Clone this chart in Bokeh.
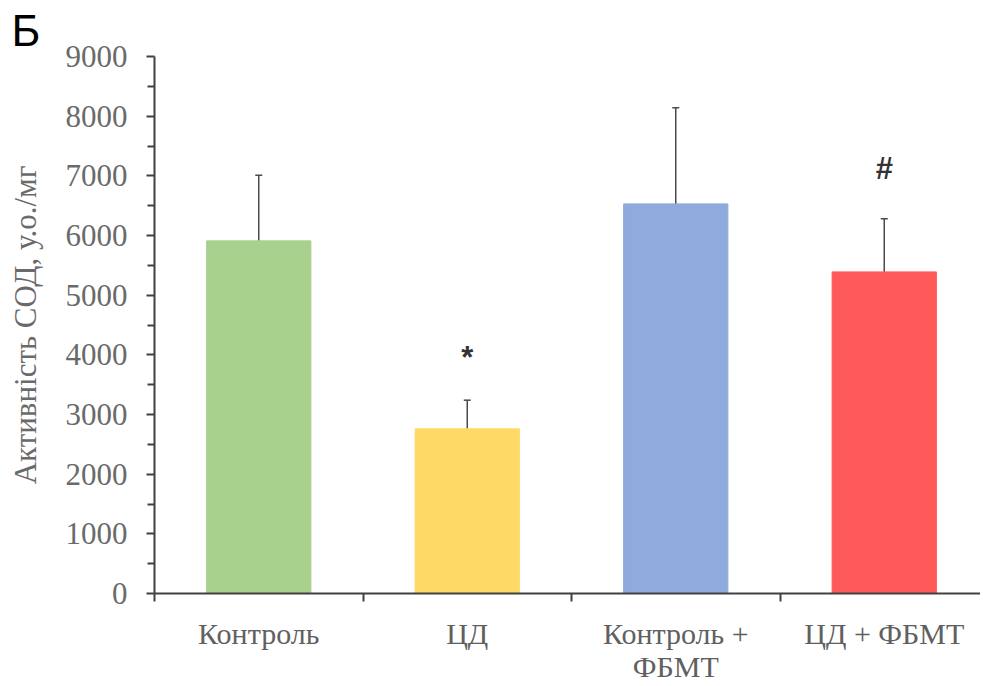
from bokeh.plotting import figure
from bokeh.models import FixedTicker, ColumnDataSource, Whisker, Label, TeeHead
from bokeh.embed import file_html
from bokeh.resources import INLINE

categories = ["Контроль", "ЦД", "Контроль +\nФБМТ", "ЦД + ФБМТ"]
means = [5910, 2760, 6530, 5390]
lower = [4800, 2280, 4930, 4520]
upper = [7010, 3240, 8140, 6280]
colors = ["#A9D18E", "#FFD966", "#8FAADC", "#FF5A5A"]
marks = ["", "*", "", "#"]
mark_y = [0, 3960, 0, 7120]
y_ticks = [0, 1000, 2000, 3000, 4000, 5000, 6000, 7000, 8000, 9000]

xpos = [i + 0.5 for i in range(len(categories))]

W, H = 980, 685
LEFT, TOP = 154, 56
FRAME_H = 538
p = figure(width=W, height=H, x_range=(0, (W - LEFT) / 208.5), y_range=(0, 9000),
           output_backend="svg", toolbar_location=None,
           min_border_left=LEFT, min_border_right=0, min_border_top=TOP,
           min_border_bottom=H - TOP - FRAME_H)
p.grid.visible = False
p.outline_line_color = None
p.background_fill_color = "white"

p.title.text = "Б"
p.title.align = "left"
p.title.offset = -143
p.title.standoff = 0
p.title.vertical_align = "top"
p.title.text_font = "'Liberation Sans Narrow', 'Liberation Sans'"
p.title.text_font_size = "44px"
p.title.text_line_height = 1.35
p.title.text_font_style = "normal"
p.title.text_color = "black"

src = ColumnDataSource(dict(x=xpos, top=means, lower=lower, upper=upper, color=colors))
p.vbar(x="x", top="top", width=0.5, bottom=0, color="color", source=src)

w = Whisker(base="x", lower="lower", upper="upper", source=src,
            line_color="#4a4a4a", line_width=1.5,
            upper_head=TeeHead(size=7, line_color="#4a4a4a", line_width=1.5),
            lower_head=TeeHead(size=7, line_color="#4a4a4a", line_width=1.5))
p.add_layout(w)

for x, m, yy in zip(xpos, marks, mark_y):
    if m:
        p.add_layout(Label(x=x, y=yy, text=m, text_align="center", text_baseline="alphabetic",
                           text_font="Liberation Sans", text_font_size="31px",
                           text_font_style="bold", text_color="#333333"))

# y axis
ya = p.yaxis[0]
ya.ticker = FixedTicker(ticks=y_ticks, minor_ticks=[v + 500 for v in y_ticks[:-1]])
ya.axis_line_color = "#404040"
ya.axis_line_width = 2
ya.major_tick_line_color = "#404040"
ya.major_tick_line_width = 2
ya.major_tick_out = 8
ya.major_tick_in = 0
ya.minor_tick_line_color = "#404040"
ya.minor_tick_line_width = 2
ya.minor_tick_out = 7
ya.minor_tick_in = 0
ya.major_label_text_font = "Liberation Serif"
ya.major_label_text_font_size = "31px"
ya.major_label_text_color = "#6a6a6a"
ya.major_label_standoff = 19
ya.axis_label = "Активність СОД, у.о./мг"
ya.axis_label_text_font = "Liberation Serif"
ya.axis_label_text_font_size = "31px"
ya.axis_label_text_font_style = "normal"
ya.axis_label_text_color = "#6a6a6a"
ya.axis_label_standoff = 20

# x axis
xa = p.xaxis[0]
xa.ticker = FixedTicker(ticks=xpos, minor_ticks=[0, 1, 2, 3])
xa.major_label_overrides = {x: c for x, c in zip(xpos, categories)}
xa.axis_line_color = "#404040"
xa.axis_line_width = 2
xa.major_tick_out = 0
xa.major_tick_in = 0
xa.minor_tick_line_color = "#404040"
xa.minor_tick_line_width = 2
xa.minor_tick_out = 8
xa.minor_tick_in = 0
xa.major_label_text_font = "Liberation Serif"
xa.major_label_text_font_size = "30px"
xa.major_label_text_line_height = 1.0
xa.major_label_text_color = "#606060"
xa.major_label_standoff = 15

open("out.html", "w").write(file_html(p, INLINE))
